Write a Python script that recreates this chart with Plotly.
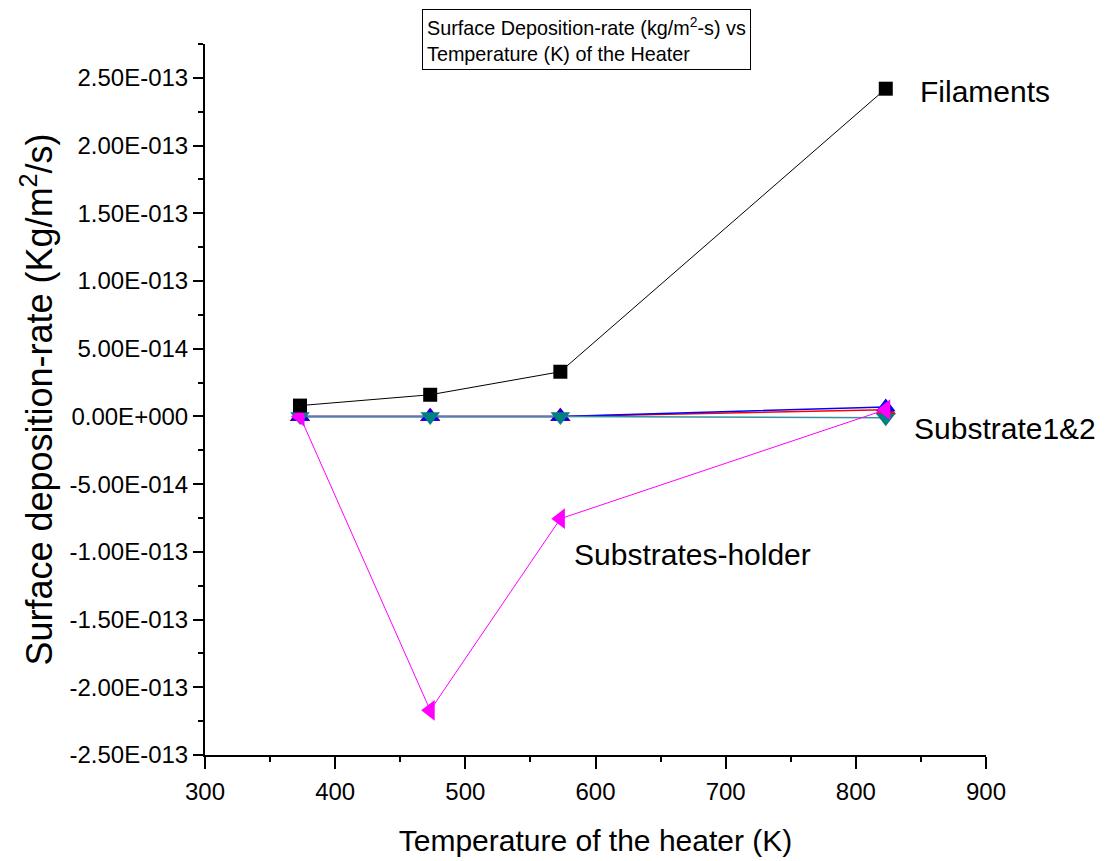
import plotly.graph_objects as go

temps = [373, 473, 573, 823]
filaments = [8e-15, 1.6e-14, 3.3e-14, 2.42e-13]
holder = [0.0, -2.17e-13, -7.55e-14, 5e-15]
substrate1 = [0.0, 0.0, 0.0, 5e-15]
substrate2 = [0.0, 0.0, 0.0, 7e-15]
substrate_avg = [0.0, 0.0, 0.0, -1e-15]

xtick_vals = [300, 400, 500, 600, 700, 800, 900]
ytick_vals = [2.5e-13, 2.0e-13, 1.5e-13, 1.0e-13, 5.0e-14, 0.0,
              -5.0e-14, -1.0e-13, -1.5e-13, -2.0e-13, -2.5e-13]
ytick_text = ["2.50E-013", "2.00E-013", "1.50E-013", "1.00E-013", "5.00E-014",
              "0.00E+000", "-5.00E-014", "-1.00E-013", "-1.50E-013",
              "-2.00E-013", "-2.50E-013"]

fig = go.Figure()

fig.add_trace(go.Scatter(x=temps, y=substrate1, mode="lines+markers",
                         line=dict(color="#FF0000", width=1.5),
                         marker=dict(symbol="triangle-up", size=18, color="#FF0000"),
                         name="Substrate1"))
fig.add_trace(go.Scatter(x=temps, y=substrate2, mode="lines+markers",
                         line=dict(color="#0000FF", width=1.5),
                         marker=dict(symbol="triangle-up", size=17, color="#0000FF"),
                         name="Substrate2"))
fig.add_trace(go.Scatter(x=temps, y=substrate_avg, mode="lines+markers",
                         line=dict(color="#3A8FA0", width=1.5),
                         marker=dict(symbol="triangle-down", size=17, color="#008080"),
                         name="Substrate"))
fig.add_trace(go.Scatter(x=temps, y=holder, mode="lines+markers",
                         line=dict(color="#FF00FF", width=1),
                         marker=dict(symbol="triangle-left", size=18, color="#FF00FF"),
                         name="Substrates-holder"))
fig.add_trace(go.Scatter(x=temps, y=filaments, mode="lines+markers",
                         line=dict(color="#000000", width=1),
                         marker=dict(symbol="square", size=14, color="#000000"),
                         name="Filaments"))

font_main = "Liberation Sans, Arial, sans-serif"

fig.update_layout(
    width=1105, height=861,
    margin=dict(l=197, r=127, t=36, b=114),
    paper_bgcolor="white", plot_bgcolor="white",
    showlegend=False,
    font=dict(family=font_main, color="black"),
    xaxis=dict(range=[300, 900], tickvals=xtick_vals,
               ticks="outside", ticklen=12, tickwidth=2, tickcolor="black",
               minor=dict(dtick=50, tick0=300, ticks="outside", ticklen=5, tickwidth=2, tickcolor="black"),
               showline=True, linecolor="black", linewidth=2, showgrid=False, zeroline=False,
               tickfont=dict(size=24), ticklabelstandoff=2,
               title=dict(text="Temperature of the heater (K)", font=dict(size=30), standoff=26)),
    yaxis=dict(range=[-2.5e-13, 2.75e-13], tickvals=ytick_vals, ticktext=ytick_text,
               ticks="outside", ticklen=10, tickwidth=2, tickcolor="black",
               minor=dict(dtick=2.5e-14, tick0=0, ticks="outside", ticklen=5, tickwidth=2, tickcolor="black"),
               showline=True, linecolor="black", linewidth=2, showgrid=False, zeroline=False,
               tickfont=dict(size=24),
               title=dict(text="Surface deposition-rate (Kg/m<sup>2</sup>/s)", font=dict(size=36), standoff=6)),
)

fig.add_annotation(xref="paper", yref="paper", x=0.278, y=1.049, xanchor="left", yanchor="top",
                   text="Surface Deposition-rate (kg/m<sup>2</sup>-s) vs<br>Temperature (K) of the Heater",
                   showarrow=False, align="left", bordercolor="black", borderwidth=1, borderpad=4,
                   font=dict(size=19.8, family=font_main))
fig.add_annotation(xref="x", yref="y", x=848, y=2.4e-13, xanchor="left", yanchor="middle",
                   text="Filaments", showarrow=False, font=dict(size=30, family=font_main))
fig.add_annotation(xref="x", yref="y", x=843, y=-9e-15, xanchor="left", yanchor="middle",
                   text="Substrate1&2", showarrow=False, font=dict(size=30, family=font_main))
fig.add_annotation(xref="x", yref="y", x=582, y=-1.02e-13, xanchor="left", yanchor="middle",
                   text="Substrates-holder", showarrow=False, font=dict(size=30, family=font_main))

fig.write_html("out.html")
